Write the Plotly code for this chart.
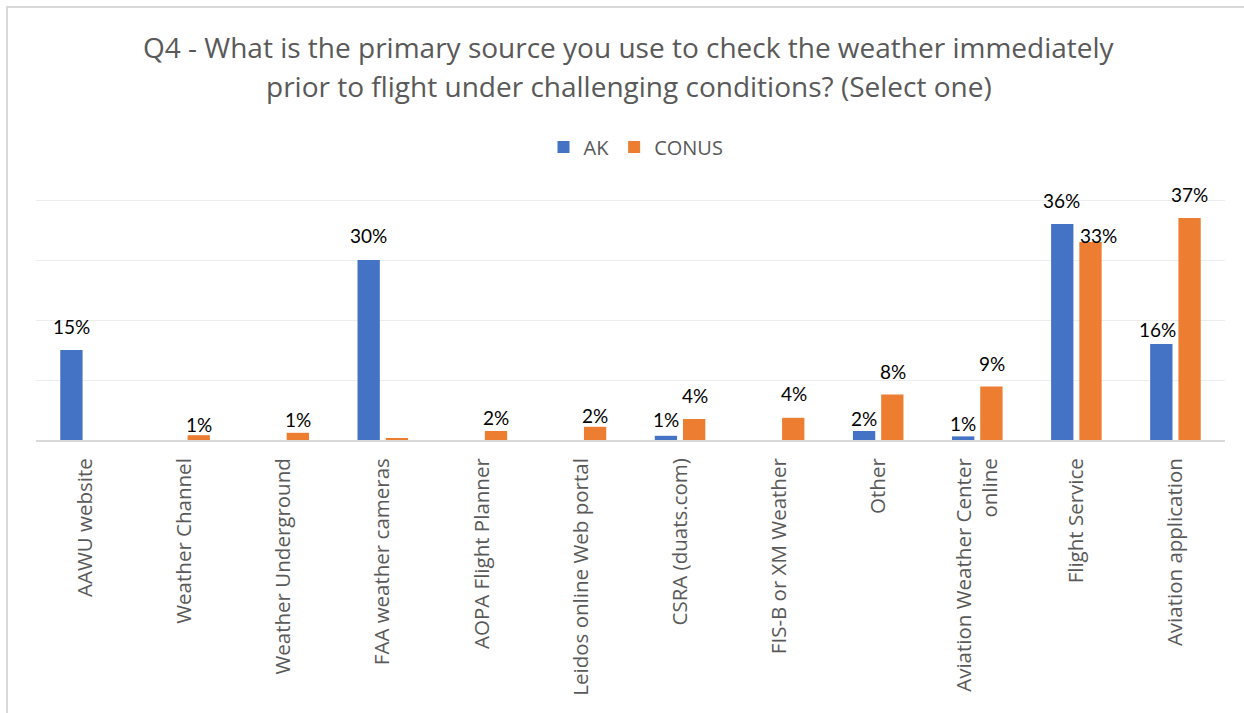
import plotly.graph_objects as go

categories = [
    "AAWU website", "Weather Channel", "Weather Underground", "FAA weather cameras",
    "AOPA Flight Planner", "Leidos online Web portal", "CSRA (duats.com)",
    "FIS-B or XM Weather", "Other", "Aviation Weather Center<br>online",
    "Flight Service", "Aviation application",
]
ak_values = [15.0, 0.0, 0.0, 30.0, 0.0, 0.0, 0.7, 0.0, 1.5, 0.6, 36.0, 16.0]
conus_values = [0.0, 0.8, 1.2, 0.2, 1.5, 2.2, 3.5, 3.7, 7.6, 8.9, 33.0, 37.0]
title_lines = [
    "Q4 - What is the primary source you use to check the weather immediately",
    "prior to flight under challenging conditions? (Select one)",
]

# label placement styling (pixel offsets above bar top, horizontal nudges)
ak_label_dy = [24, 0, 0, 25, 0, 0, 16, 0, 13, 13, 24, 15]
ak_label_dx = [0, 0, 0, 0, 0, 0, 0, 0, 0, 0, 0, -3]
conus_label_dy = [0, 11, 13, 0, 14, 11, 24, 24, 23, 23, 7, 24]
conus_label_dx = [0, 0, 0, 0, 0, 0, 0, 0, 0, 0, 8, 0]

BLUE = "#4472C4"
ORANGE = "#ED7D31"
GREY = "#595959"

W, H = 1244, 713
ML, MR, MT, MB = 36, 19, 199, 273
PW, PH = W - ML - MR, H - MT - MB
BAR_HALF_SPACING = 14.5

fig = go.Figure()
fig.add_trace(go.Bar(name="AK", x=categories, y=ak_values, marker=dict(color=BLUE, line=dict(width=0))))
fig.add_trace(go.Bar(name="CONUS", x=categories, y=conus_values, marker=dict(color=ORANGE, line=dict(width=0))))

annotations = []
for vals, dys, dxs, sign in ((ak_values, ak_label_dy, ak_label_dx, -1),
                             (conus_values, conus_label_dy, conus_label_dx, 1)):
    for c, v, dy, dx in zip(categories, vals, dys, dxs):
        if v < 0.5:
            continue
        annotations.append(dict(
            x=c, y=v, xref="x", yref="y", text=f"{round(v):.0f}%", showarrow=False,
            xanchor="center", yanchor="middle", xshift=sign * BAR_HALF_SPACING + dx, yshift=dy,
            font=dict(family="Lato", size=19, color="#000000"),
        ))

for line, cy in zip(title_lines, (47, 86)):
    annotations.append(dict(
        text=line, xref="paper", yref="paper", x=(629 - ML) / PW, y=1.0, yshift=MT - cy,
        xanchor="center", yanchor="middle",
        showarrow=False, font=dict(family="Open Sans", size=28, color=GREY),
    ))

fig.update_layout(
    width=W, height=H,
    margin=dict(l=ML, r=MR, t=MT, b=MB, autoexpand=False),
    paper_bgcolor="white", plot_bgcolor="white",
    barmode="group", bargap=0.43, bargroupgap=0.21,
    font=dict(family="Open Sans", color=GREY),
    legend=dict(orientation="h", xref="paper", x=(636 - ML) / PW, xanchor="center",
                yref="container", y=1 - 147 / H, yanchor="middle",
                font=dict(family="Open Sans", size=20, color=GREY),
                itemwidth=30, traceorder="normal"),
    showlegend=True,
    annotations=annotations,
    shapes=[dict(type="rect", xref="paper", yref="paper",
                 x0=(7 - ML) / PW, x1=(1300 - ML) / PW,
                 y0=-2.0, y1=1 + (MT - 7) / PH,
                 line=dict(color="#D9D9D9", width=2), fillcolor="rgba(0,0,0,0)", layer="below")],
)
fig.update_xaxes(
    tickangle=-90, tickfont=dict(family="Open Sans", size=20.5, color=GREY), automargin=False,
    ticklabelstandoff=8,
    showline=True, linecolor="#D9D9D9", linewidth=2, ticks="", showgrid=False,
)
fig.update_yaxes(
    range=[0, 40.17], tickvals=[0, 10, 20, 30, 40], showgrid=True, gridcolor="#EDEDED", gridwidth=1,
    showticklabels=False, zeroline=False, showline=False, automargin=False,
)

fig.write_html("out.html", config={"displayModeBar": False},
               post_script="document.body.style.margin='0px';")
